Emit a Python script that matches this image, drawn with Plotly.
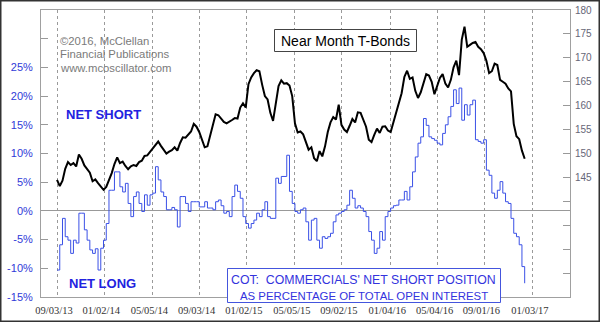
import pandas as pd
import plotly.graph_objects as go

# ---------------- data ----------------
start_date = "2013-09-03"   # first weekly observation
# Near month T-Bond price, weekly readings (right axis)
tbond_price = [
    144.5, 143.2, 144.3, 146.8, 148.2, 147.6, 148.0, 147.3, 149.8, 148.9,
    147.5, 146.8, 146.0, 144.2, 144.6, 143.8, 143.2, 142.4, 143.0, 144.3,
    145.9, 147.8, 149.2, 148.0, 148.3, 147.4, 146.7, 147.3, 147.6, 147.4,
    148.2, 148.5, 149.5, 149.6, 150.3, 151.0, 151.8, 152.5, 151.6, 150.8,
    150.0, 150.4, 150.7, 151.3, 150.6, 152.2, 153.4, 153.3, 153.9, 154.6,
    156.2, 155.6, 154.5, 152.9, 151.3, 151.5, 153.6, 155.9, 158.2, 158.0,
    157.4, 156.6, 156.3, 156.6, 157.0, 157.4, 157.3, 159.6, 160.5, 159.6,
    164.5, 165.9, 166.8, 167.4, 167.2, 164.4, 162.0, 161.3, 158.5, 156.8,
    160.5, 164.1, 165.3, 164.6, 164.7, 164.2, 162.0, 156.3, 154.4, 154.6,
    154.0, 152.6, 150.8, 151.3, 149.0, 148.4, 150.5, 149.4, 151.5, 154.5,
    156.5, 157.6, 157.1, 160.2, 156.0, 155.0, 154.5, 155.8, 157.2, 156.5,
    158.6, 158.5, 157.2, 155.6, 152.9, 152.4, 153.9, 155.2, 154.3, 155.6,
    155.7, 154.8, 154.5, 156.5, 158.6, 160.5, 162.6, 166.0, 167.3, 165.6,
    165.9, 163.1, 161.6, 162.8, 164.8, 166.6, 166.3, 165.0, 162.4, 164.2,
    165.8, 166.6, 164.6, 163.8, 165.4, 168.0, 169.4, 166.4, 173.8, 176.5,
    172.3, 172.7, 173.1, 173.3, 172.3, 171.8, 171.0, 169.4, 166.8, 167.2,
    168.8, 168.5, 165.4, 165.0, 164.6, 163.6, 163.0, 156.2, 153.6, 153.0,
    150.6, 148.9,
]
# COT commercials' net short position, % of open interest (left axis)
cot_net_short = [
    -10.3, -5.9, -1.3, -4.5, -5.1, -7.4, -5.1, -5.6, -0.4, -0.4,
    -3.3, -5.1, -6.8, -7.4, -6.6, -10.3, -6.5, -5.1, -2.2, 3.6,
    3.6, 6.8, 6.8, 4.2, 3.3, 4.8, 1.3, -1.0, 2.5, 3.3,
    1.3, -0.1, 2.8, 1.0, 2.8, 3.1, 7.7, 5.4, 3.3, 2.5,
    0.2, 0.2, 0.6, 0.2, -2.8, 2.5, 2.5, 1.3, -0.1, 1.6,
    1.6, 1.6, 0.7, 0.7, 1.6, 0.5, 0.5, 0.2, 1.6, 1.9,
    0.9, -0.4, -0.1, -1.0, 2.5, 4.5, 3.4, 2.2, -1.0, -2.2,
    -3.0, -2.2, -1.6, -0.4, -1.0, 0.2, 1.6, -1.0, -1.3, -1.3,
    5.7, 4.8, 6.0, 6.0, 9.7, 3.4, 1.3, -0.1, -0.4, 0.2,
    0.5, -1.9, -5.1, -1.6, -1.3, -5.1, -6.5, -4.5, -4.8, -4.5,
    -3.9, -1.9, -0.7, -0.4, -0.1, 0.2, 1.0, 3.6, 2.2, 0.5,
    0.9, 0.5, -0.1, -1.0, -3.6, -5.1, -7.4, -6.5, -3.6, -5.1,
    -1.0, -0.1, 0.5, 0.9, 1.0, 1.9, 1.9, 3.4, 1.9, 4.2,
    6.8, 9.4, 11.8, 12.9, 16.1, 14.9, 12.9, 12.6, 12.3, 11.8,
    11.5, 13.5, 15.0, 16.4, 18.2, 21.1, 18.7, 21.4, 15.8, 18.5,
    16.7, 18.5, 19.3, 12.4, 12.1, 11.8, 12.4, 7.1, 6.2, 3.1,
    2.2, 3.6, 5.1, 3.1, 1.6, 1.3, -1.3, -3.9, -4.5, -5.9,
    -9.7, -12.6,
]
x_tick_dates = ["2013-09-03", "2014-01-02", "2014-05-05", "2014-09-03",
                "2015-01-02", "2015-05-05", "2015-09-02", "2016-01-04",
                "2016-05-04", "2016-09-01", "2017-01-03"]
x_tick_labels = ["09/03/13", "01/02/14", "05/05/14", "09/03/14", "01/02/15",
                 "05/05/15", "09/02/15", "01/04/16", "05/04/16", "09/01/16",
                 "01/03/17"]
pct_ticks = [-15, -10, -5, 0, 5, 10, 15, 20, 25, 30]
pct_labels = ["-15%", "-10%", "-5%", "0%", "5%", "10%", "15%", "20%", "25%", ""]
price_ticks = [125, 130, 135, 140, 145, 150, 155, 160, 165, 170, 175, 180]
price_labels = ["", "", "", "", "145", "150", "155", "160", "165", "170", "175", "180"]
copyright_lines = ["©2016, McClellan", "Financial Publications", "www.mcoscillator.com"]

weeks_price = pd.date_range(start_date, periods=len(tbond_price), freq="7D")
weeks_cot = pd.date_range(start_date, periods=len(cot_net_short), freq="7D")

# ---------------- layout geometry ----------------
W, H = 600, 322
L, R, T, B = 41, 30, 10, 25
PW, PH = W - L - R, H - T - B

def px(x):
    return (x - L) / PW

def py(y):
    return (H - B - y) / PH

FONT = "Liberation Sans"
BLUE = "#3a50e6"
TXTBLUE = "#2222e0"

fig = go.Figure()
fig.add_trace(go.Scatter(x=weeks_price, y=tbond_price, yaxis="y2", mode="lines",
                         line=dict(color="black", width=2), name="T-Bonds"))
fig.add_trace(go.Scatter(x=weeks_cot, y=cot_net_short, mode="lines",
                         line=dict(color=BLUE, width=1, shape="hv"), name="COT"))

fig.update_layout(
    width=W, height=H, margin=dict(l=L, r=R, t=T, b=B, pad=0, autoexpand=False),
    paper_bgcolor="white", plot_bgcolor="white", showlegend=False,
    font=dict(family=FONT),
    xaxis=dict(type="date", range=["2013-07-24", "2017-04-08"], automargin=False,
               tickvals=x_tick_dates, ticktext=x_tick_labels,
               tickfont=dict(family="Liberation Sans Narrow", size=10.5, color="#333333"),
               ticklabelstandoff=3, ticklabelshift=-3,
               showgrid=True, gridcolor="#9a9a9a", griddash="dot", gridwidth=1,
               showline=True, linecolor="#a0a0a0", linewidth=1, mirror=True,
               ticks="", zeroline=False),
    yaxis=dict(range=[-15, 35], tickvals=pct_ticks, ticktext=pct_labels, automargin=False,
               tickfont=dict(size=11, color="#2f3ad8"), ticklabelstandoff=5,
               ticks="inside", ticklen=7, tickcolor="#999999",
               showgrid=False, zeroline=True, zerolinecolor="#999999", zerolinewidth=1,
               showline=True, linecolor="#a0a0a0", linewidth=1),
    yaxis2=dict(range=[120, 180], overlaying="y", side="right", automargin=False,
                tickvals=price_ticks, ticktext=price_labels,
                tickfont=dict(size=10, color="#666677"), ticklabelstandoff=2,
                ticks="inside", ticklen=7, tickcolor="#999999",
                showgrid=False, zeroline=False,
                showline=True, linecolor="#a0a0a0", linewidth=1),
)

# outer frame of the picture
fig.add_shape(type="rect", xref="paper", yref="paper",
              x0=px(0.5), x1=px(W - 0.5), y0=py(H - 0.5), y1=py(0.5),
              line=dict(color="#333333", width=2), fillcolor="rgba(0,0,0,0)", layer="above")

def label(x, y, text, size, color, xanchor="center"):
    fig.add_annotation(xref="paper", yref="paper", x=px(x), y=py(y), text=text,
                       showarrow=False, xanchor=xanchor, yanchor="middle",
                       font=dict(size=size, color=color), borderpad=0, bgcolor="rgba(0,0,0,0)")

# copyright text
for i, line in enumerate(copyright_lines):
    label(59, 40.7 + 13.8 * i, line, 11.3, "#7a7a7a", xanchor="left")

# NET SHORT / NET LONG
label(103, 114, "<b>NET SHORT</b>", 13, TXTBLUE)
label(102, 283, "<b>NET LONG</b>", 13, TXTBLUE)

# Near Month T-Bonds box
fig.add_shape(type="rect", xref="paper", yref="paper",
              x0=px(274.5), x1=px(416.5), y0=py(51.5), y1=py(29.5),
              line=dict(color="#444444", width=1), fillcolor="white", layer="above")
label(345.5, 40.5, "Near Month T-Bonds", 14, "black")

# COT box
fig.add_shape(type="rect", xref="paper", yref="paper",
              x0=px(227.5), x1=px(500.5), y0=py(302.5), y1=py(268.5),
              line=dict(color="#4455dd", width=1), fillcolor="white", layer="above")
label(364, 279.5, "COT:  COMMERCIALS' NET SHORT POSITION", 12.3, "#3333dd")
label(364, 295.5, "AS PERCENTAGE OF TOTAL OPEN INTEREST", 11.4, "#3333dd")

fig.write_html("out.html")
